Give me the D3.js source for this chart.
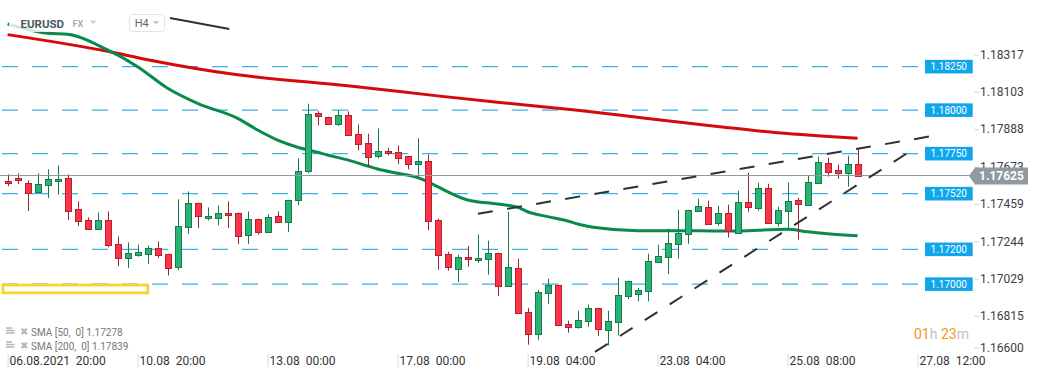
<!DOCTYPE html>
<html><head><meta charset="utf-8">
<script src="https://cdn.jsdelivr.net/npm/d3@7"></script>
<style>
html,body{margin:0;padding:0;background:#fff;}
svg{display:block;font-family:Roboto,"Noto Sans",sans-serif;}
text{white-space:pre;}
</style></head><body>
<svg id="c" width="1041" height="379"></svg>
<script>
// ---- data (H4 candles, EURUSD) ----
const opens=[1.17595,1.17608,1.17583,1.17531,1.17572,1.17592,1.17612,1.17434,1.17370,1.17319,
1.17370,1.17232,1.17152,1.17169,1.17174,1.17209,1.17175,1.17098,1.17328,1.17468,
1.17382,1.17385,1.17411,1.17411,1.17284,1.17376,1.17299,1.17393,1.17357,1.17485,
1.17650,1.17986,1.17963,1.17922,1.17974,1.17865,1.17813,1.17736,1.17767,1.17761,
1.17738,1.17692,1.17710,1.17370,1.17175,1.17089,1.17158,1.17140,1.17146,1.17181,
1.16991,1.17094,1.16841,1.16715,1.16951,1.16997,1.16772,1.16755,1.16790,1.16864,
1.16741,1.16784,1.16933,1.16945,1.16962,1.17129,1.17158,1.17232,1.17290,1.17422,
1.17445,1.17353,1.17411,1.17297,1.17474,1.17439,1.17554,1.17353,1.17422,1.17485,
1.17457,1.17583,1.17698,1.17658,1.17641,1.17692];
const highs=[1.17631,1.17637,1.17596,1.17637,1.17660,1.17683,1.17631,1.17476,1.17384,1.17412,
1.17418,1.17274,1.17240,1.17228,1.17223,1.17246,1.17175,1.17487,1.17533,1.17468,
1.17441,1.17453,1.17476,1.17411,1.17418,1.17376,1.17401,1.17418,1.17485,1.17723,
1.18037,1.17995,1.17963,1.17999,1.17993,1.17918,1.17865,1.17895,1.17784,1.17798,
1.17738,1.17838,1.17744,1.17376,1.17186,1.17169,1.17221,1.17286,1.17250,1.17181,
1.17416,1.17146,1.16864,1.16968,1.17031,1.16997,1.16790,1.16847,1.16882,1.16864,
1.16847,1.17037,1.17020,1.16979,1.17175,1.17227,1.17319,1.17428,1.17428,1.17491,
1.17480,1.17451,1.17457,1.17537,1.17641,1.17583,1.17577,1.17445,1.17583,1.17497,
1.17623,1.17733,1.17727,1.17687,1.17738,1.17779];
const lows=[1.17563,1.17575,1.17420,1.17526,1.17494,1.17514,1.17368,1.17334,1.17319,1.17319,
1.17213,1.17103,1.17092,1.17158,1.17116,1.17150,1.17050,1.17079,1.17290,1.17322,
1.17366,1.17338,1.17322,1.17230,1.17230,1.17284,1.17293,1.17357,1.17299,1.17453,
1.17638,1.17913,1.17922,1.17909,1.17859,1.17769,1.17673,1.17723,1.17740,1.17690,
1.17660,1.17615,1.17309,1.17083,1.17077,1.17012,1.17100,1.17123,1.17054,1.16931,
1.16991,1.16836,1.16652,1.16680,1.16887,1.16767,1.16721,1.16744,1.16755,1.16701,
1.16648,1.16707,1.16914,1.16902,1.16902,1.17123,1.17057,1.17146,1.17232,1.17416,
1.17347,1.17336,1.17267,1.17297,1.17416,1.17422,1.17347,1.17330,1.17319,1.17255,
1.17457,1.17583,1.17618,1.17606,1.17560,1.17625];
const closes=[1.17583,1.17595,1.17526,1.17577,1.17606,1.17606,1.17422,1.17365,1.17319,1.17370,
1.17227,1.17152,1.17181,1.17186,1.17209,1.17169,1.17094,1.17336,1.17468,1.17393,
1.17393,1.17411,1.17399,1.17278,1.17376,1.17299,1.17388,1.17357,1.17485,1.17652,
1.17980,1.17966,1.17922,1.17974,1.17859,1.17807,1.17734,1.17767,1.17753,1.17727,
1.17692,1.17710,1.17365,1.17168,1.17100,1.17158,1.17146,1.17152,1.17181,1.16991,
1.17100,1.16836,1.16715,1.16956,1.16997,1.16767,1.16755,1.16795,1.16864,1.16744,
1.16790,1.16939,1.17020,1.16968,1.17135,1.17163,1.17238,1.17296,1.17428,1.17451,
1.17347,1.17411,1.17307,1.17474,1.17445,1.17554,1.17353,1.17428,1.17480,1.17462,
1.17589,1.17704,1.17646,1.17641,1.17692,1.17625];

const sma50=[[0,1.18495],[4,1.18442],[6,1.18436],[10,1.18346],[13,1.18250],[16,1.18126],[19,1.18039],
[23,1.17953],[25,1.17886],[27,1.17828],[29,1.17787],[31,1.17758],[32,1.17742],[34,1.17714],[36,1.17679],
[37,1.17662],[39,1.17637],[41,1.17612],[42,1.17589],[43,1.17560],[46,1.17484],[49,1.17461],[51,1.17442],
[52,1.17416],[54,1.17388],[56,1.17363],[57,1.17346],[59,1.17324],[63,1.17307],[69,1.17307],[72,1.17305],
[78,1.17315],[80,1.17301],[82,1.17290],[85,1.17278]];
const sma200=[[0,1.18434],[10,1.18338],[14,1.18290],[23,1.18203],[34,1.18140],[43,1.18082],[49,1.18045],
[57,1.17999],[64,1.17952],[71,1.17906],[77,1.17870],[85,1.17839]];

const timeTickIdx=[0,13,26,39,52,65,78,91];
const timeTickLabels=["06.08.2021  20:00","10.08  20:00","13.08  00:00","17.08  00:00","19.08  04:00","23.08  04:00","25.08  08:00","27.08  12:00"];
const priceTicks=[1.18317,1.18103,1.17888,1.17673,1.17459,1.17244,1.17029,1.16815,1.16600];
const levels=[1.18250,1.18000,1.17750,1.17520,1.17200,1.17000];
const trendUpper=[[47.04,1.17404],[92.24,1.17849]];
const trendLower=[[58.74,1.16611],[90.74,1.17781]];
const sketchLine=[[16.24,1.18529],[22.17,1.18466]];
const zone=[-0.47,14.02,1.16995,1.16950];
const lastPrice=1.17625;
const legendNames=["SMA [50,  0]","SMA [200,  0]"];
const legendValues=["1.17278","1.17839"];

// ---- scales ----
const x=d3.scaleLinear().domain([0,91]).range([7.6,917.6]);
const y=d3.scaleLinear().domain([1.17000,1.18250]).range([284.15,66.65]);
const svg=d3.select("#c");

// level dashed lines
svg.append("g").selectAll("line").data(levels).join("line")
  .attr("x1",2).attr("x2",925).attr("y1",d=>y(d)).attr("y2",d=>y(d))
  .attr("stroke","#3fb0e8").attr("stroke-width",1.4).attr("stroke-dasharray","16 14");

// moving averages
const line=d3.line().x(d=>x(d[0])).y(d=>y(d[1])).curve(d3.curveMonotoneX);
svg.append("path").datum(sma200).attr("d",line).attr("fill","none").attr("stroke","#d50a0a").attr("stroke-width",3);
svg.append("path").datum(sma50).attr("d",line).attr("fill","none").attr("stroke","#088a4d").attr("stroke-width",3);

// candles
const candles=d3.range(opens.length).map(i=>({i,o:opens[i],h:highs[i],l:lows[i],c:closes[i]}));
const cx=d=>Math.round(x(d.i))+0.5;
const cg=svg.append("g").selectAll("g").data(candles).join("g");
cg.append("line").attr("x1",cx).attr("x2",cx).attr("y1",d=>y(d.h)).attr("y2",d=>y(d.l))
  .attr("stroke",d=>d.c>d.o?"#177a4c":"#a81f2c").attr("stroke-width",1);
cg.append("rect").attr("x",d=>cx(d)-3).attr("width",6)
  .attr("y",d=>Math.round(y(Math.max(d.o,d.c)))+0.5)
  .attr("height",d=>Math.max(1,Math.round(y(Math.min(d.o,d.c))-y(Math.max(d.o,d.c)))))
  .attr("fill",d=>d.c>d.o?"#27b474":"#fc3447")
  .attr("stroke",d=>d.c>d.o?"#177a4c":"#b3202e").attr("stroke-width",1);

// last price line
svg.append("line").attr("x1",0).attr("x2",970).attr("y1",Math.round(y(lastPrice))+0.5).attr("y2",Math.round(y(lastPrice))+0.5)
  .attr("stroke","#8e989d").attr("stroke-width",1);

// trend lines
const tl=d3.line().x(d=>x(d[0])).y(d=>y(d[1]));
[trendUpper,trendLower].forEach(t=>{
  svg.append("path").datum(t).attr("d",tl).attr("fill","none").attr("stroke","#2c3136").attr("stroke-width",2).attr("stroke-dasharray","15 14.5");
});
svg.append("path").datum(sketchLine).attr("d",tl).attr("fill","none").attr("stroke","#2c3136").attr("stroke-width",2);

// yellow zone
svg.append("rect").attr("x",x(zone[0])).attr("y",y(zone[2])).attr("width",x(zone[1])-x(zone[0])).attr("height",y(zone[3])-y(zone[2]))
  .attr("fill","#fff").attr("stroke","#f8d52c").attr("stroke-width",2.8);

// header fade
svg.append("rect").attr("x",9).attr("y",0).attr("width",40).attr("height",32).attr("fill","#fff").attr("opacity",0.82);

// header
svg.append("text").attr("x",20.5).attr("y",27.5).attr("font-size",11.5).attr("font-weight","bold").attr("fill","#4c5661").text("EURUSD");
svg.append("text").attr("x",72.5).attr("y",27).attr("font-size",9).attr("font-weight","bold").attr("fill","#a4adb6").text("FX");
svg.append("path").attr("d","M90,20.5L96.5,20.5L93.25,24Z").attr("fill","#c5cad0");
svg.append("rect").attr("x",129.5).attr("y",14.5).attr("width",35).attr("height",17).attr("rx",3).attr("fill","#fff").attr("stroke","#e2e5e8");
svg.append("text").attr("x",134.7).attr("y",27).attr("font-size",11).attr("fill","#5b6670").text("H4");
svg.append("path").attr("d","M152.5,21L159.5,21L156,24.5Z").attr("fill","#c5cad0");

// level tags
const lt=svg.append("g").selectAll("g").data(levels).join("g").attr("transform",d=>`translate(925,${y(d)})`);
lt.append("rect").attr("x",0).attr("y",-6.8).attr("width",47.7).attr("height",13.6).attr("fill","#10a6ec");
lt.append("text").attr("x",23.8).attr("y",3.6).attr("text-anchor","middle").attr("font-size",10).attr("fill","#fff").text(d=>d3.format(".5f")(d));

// right price axis
const ga=svg.append("g").attr("transform","translate(974,0)")
  .call(d3.axisRight(y).tickValues(priceTicks).tickFormat(d3.format(".5f")).tickSize(5).tickPadding(1));
ga.select(".domain").remove();
ga.attr("font-size",12).attr("font-family","Roboto");
ga.selectAll(".tick line").attr("stroke","#d5d5d5");
ga.selectAll(".tick text").attr("fill","#404040");
ga.selectAll(".tick").attr("transform",d=>`translate(0,${Math.min(y(d),348)})`);

// last price tag
const ly=y(lastPrice)+0.5;
svg.append("path").attr("d",`M969,${ly}L975,${ly-8.5}L1028,${ly-8.5}L1028,${ly+8.5}L975,${ly+8.5}Z`).attr("fill","#8f999e");
svg.append("text").attr("x",1001.5).attr("y",ly+4.3).attr("text-anchor","middle").attr("font-size",12).attr("font-weight","bold").attr("fill","#fff").text(d3.format(".5f")(lastPrice));

// time axis
const gx=svg.append("g").attr("transform","translate(0,354)")
  .call(d3.axisBottom(x).tickValues(timeTickIdx).tickFormat((d,i)=>timeTickLabels[i]).tickSize(13).tickPadding(0));
gx.select(".domain").remove();
gx.attr("font-size",12).attr("font-family","Roboto");
gx.selectAll(".tick line").attr("stroke","#d8d8d8");
gx.selectAll(".tick text").attr("text-anchor","start").attr("x",1.5).attr("y",11).attr("dy",0).attr("fill","#333");

// legend
const lg=svg.append("g").selectAll("g").data(legendNames).join("g").attr("transform",(d,i)=>`translate(0,${335.5+i*14})`);
[-7.5,-5,-2.5].forEach((dy,k)=>{
  lg.append("line").attr("x1",6).attr("x2",k===0?12:14.5).attr("y1",dy).attr("y2",dy).attr("stroke","#b8b8b8").attr("stroke-width",1.6);
});
lg.append("text").attr("x",19.5).attr("y",-1).attr("font-size",9.5).attr("fill","#b8b8b8").text("✖");
lg.append("text").attr("x",31).attr("y",0).attr("font-size",10).attr("fill","#777").text((d,i)=>`${d} ${legendValues[i]}`);

// countdown
const cd=svg.append("text").attr("x",914).attr("y",338.5).attr("font-size",14);
cd.append("tspan").attr("fill","#f7941d").text("01");
cd.append("tspan").attr("fill","#c2c2c2").text("h ");
cd.append("tspan").attr("fill","#f7941d").text("23");
cd.append("tspan").attr("fill","#c2c2c2").text("m");
</script>
</body></html>
